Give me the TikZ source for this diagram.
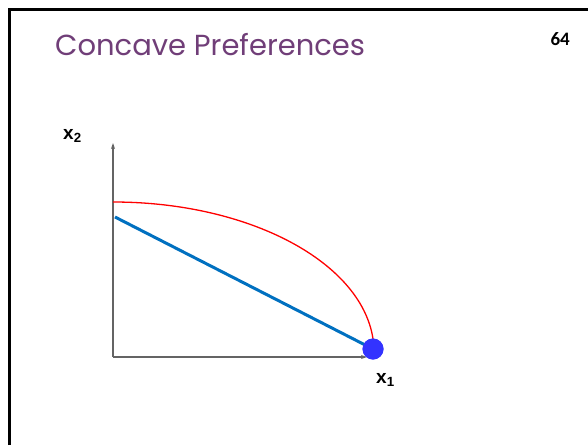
\documentclass[tikz,border=0pt]{standalone}
\usepackage{fontspec}
\setmainfont{Liberation Sans}
\newfontfamily\titlefont{Poppins}
\newfontfamily\numfont{Carlito}
\usetikzlibrary{arrows.meta}
\definecolor{titlepurple}{RGB}{112,62,120}
\definecolor{lineblue}{RGB}{0,112,192}
\definecolor{dotblue}{RGB}{51,51,255}
\definecolor{axisgray}{RGB}{100,100,100}
\tikzset{
  frame/.style={line width=3pt, black},
  axis/.style={axisgray, line width=1.2pt, -{Stealth[length=6pt,width=4pt]}},
  budget/.style={lineblue, line width=3pt},
  indiff/.style={red, line width=1.3pt},
  lbl/.style={font=\bfseries\fontsize{19}{22}\selectfont, inner sep=0pt}
}
\begin{document}
\begin{tikzpicture}[x=1pt,y=-1pt]
\useasboundingbox (0,0) rectangle (588,445);
\draw[frame] (9.5,445) -- (9.5,9) -- (588,9);
\node[anchor=base west, inner sep=0pt, text=titlepurple, font=\titlefont\fontsize{29}{33}\selectfont] (title) at (55,55) {Concave Preferences};
\node[anchor=base east, inner sep=0pt, font=\numfont\bfseries\fontsize{19}{22}\selectfont] (page) at (570,45) {64};
\coordinate (O) at (113,357);
\coordinate (ytop) at (113,143);
\coordinate (xend) at (367,357);
\draw[axis] (O) -- (ytop);
\draw[axis] (O) -- (xend);
\draw[indiff] (113,202) arc[start angle=90, end angle=2, x radius=261pt, y radius=150pt];
\node[circle, fill=dotblue, minimum size=21pt, inner sep=0pt] (dot) at (373,349) {};
\coordinate (bstart) at (115,217);
\draw[budget] (bstart) -- (dot.center);
\node[circle, fill=dotblue, minimum size=21pt, inner sep=0pt] at (dot) {};
\node[lbl, anchor=base west] (x2) at (63,139) {x\textsubscript{2}};
\node[lbl, anchor=base west] (x1) at (376,383) {x\textsubscript{1}};
\end{tikzpicture}
\end{document}
